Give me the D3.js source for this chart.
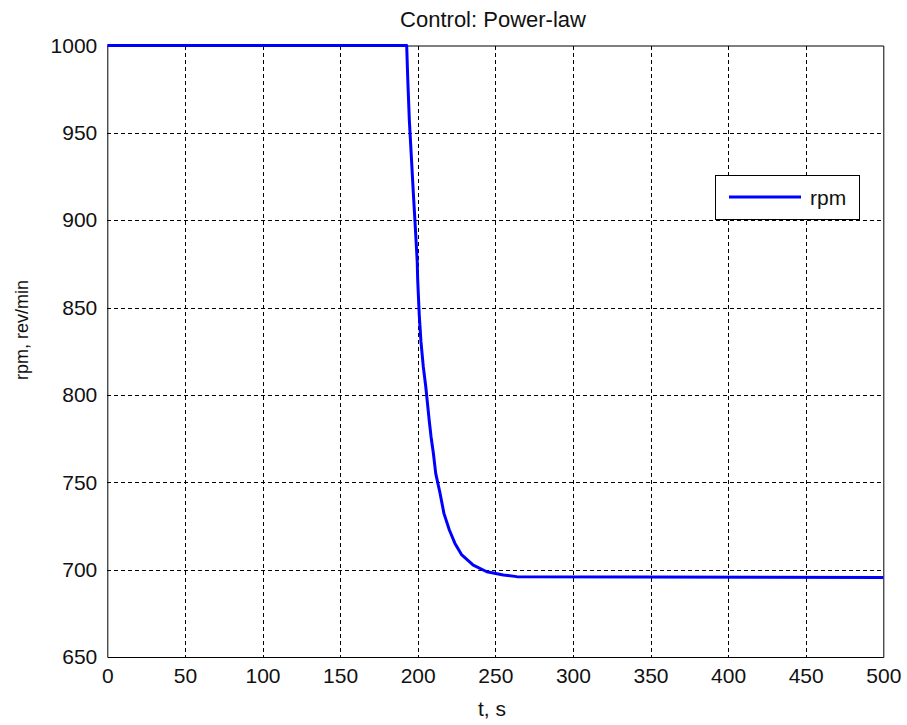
<!DOCTYPE html>
<html>
<head>
<meta charset="utf-8">
<script src="https://cdn.jsdelivr.net/npm/d3@7"></script>
<style>
  body { margin: 0; background: #fff; }
  svg text { font-family: "Liberation Sans", Arial, sans-serif; fill: #111; }
</style>
</head>
<body>
<svg id="chart" width="907" height="725"></svg>
<script>
/* ---- data ---- */
const timeS = [0, 192.9, 193.6, 194.6, 195.9, 197.2, 198.5, 199.7, 200.0, 201.0, 202.1, 203.6,
  205.2, 207.5, 208.6, 210.1, 211.6, 214.4, 216.9, 220.4, 224.0, 228.4, 235.8, 244.5, 255.2, 263.8, 500];
const rpmValues = [1000, 1000, 980.7, 957.4, 936.4, 915.4, 895.4, 876.2, 865.8, 845.8, 830.5, 816.2,
  804.7, 784.7, 776.1, 766.6, 755.1, 743.7, 732.2, 722.7, 715.0, 708.4, 702.6, 698.8, 696.9, 696.0, 695.5];
const xTicks = [0, 50, 100, 150, 200, 250, 300, 350, 400, 450, 500];
const yTicks = [650, 700, 750, 800, 850, 900, 950, 1000];

const series = timeS.map((t, i) => ({ t, v: rpmValues[i] }));

/* ---- layout ---- */
const plotLeft = 107.3, plotRight = 883.3, plotTop = 45.5, plotBottom = 657;
const svg = d3.select("#chart");

const x = d3.scaleLinear().domain([0, 500]).range([plotLeft, plotRight]);
const y = d3.scaleLinear().domain([650, 1000]).range([plotBottom, plotTop]);

// dashed grid
const grid = svg.append("g").attr("stroke", "#000").attr("stroke-width", 1)
  .attr("stroke-dasharray", "4,3").attr("shape-rendering", "crispEdges");
xTicks.slice(1, -1).forEach(t => {
  grid.append("line").attr("x1", Math.round(x(t)) + 0.5).attr("x2", Math.round(x(t)) + 0.5)
    .attr("y1", plotTop).attr("y2", plotBottom);
});
yTicks.slice(1, -1).forEach(v => {
  grid.append("line").attr("y1", Math.round(y(v)) + 0.5).attr("y2", Math.round(y(v)) + 0.5)
    .attr("x1", plotLeft).attr("x2", plotRight);
});

// axes (ticks hidden under the grid, as in the reference)
const axB = d3.axisBottom(x).tickValues(xTicks).tickSize(0).tickPadding(11).tickFormat(d3.format("d"));
const axT = d3.axisTop(x).tickValues(xTicks).tickSize(0).tickFormat("");
const axL = d3.axisLeft(y).tickValues(yTicks).tickSize(0).tickPadding(10).tickFormat(d3.format("d"));
const axR = d3.axisRight(y).tickValues(yTicks).tickSize(0).tickFormat("");

function styleAxis(g) {
  g.selectAll("path").attr("stroke", "#000").attr("stroke-width", 1);
  g.selectAll("text").attr("font-size", 21).attr("font-family", "Liberation Sans, Arial, sans-serif").attr("fill", "#111");
}
svg.append("g").attr("transform", `translate(0,${plotBottom})`).call(axB).call(styleAxis);
svg.append("g").attr("transform", `translate(0,${plotTop})`).call(axT).call(styleAxis);
svg.append("g").attr("transform", `translate(${plotLeft},0)`).call(axL).call(styleAxis);
svg.append("g").attr("transform", `translate(${plotRight},0)`).call(axR).call(styleAxis);

// rpm line
const line = d3.line().x(d => x(d.t)).y(d => y(d.v));
svg.append("path").datum(series).attr("d", line)
  .attr("fill", "none").attr("stroke", "#0000ff").attr("stroke-width", 3)
  .attr("stroke-linejoin", "round");

// labels
svg.append("text").attr("x", 493).attr("y", 27).attr("text-anchor", "middle")
  .attr("font-size", 22).text("Control: Power-law");
svg.append("text").attr("x", 492).attr("y", 716).attr("text-anchor", "middle")
  .attr("font-size", 21).text("t, s");
svg.append("text").attr("transform", "translate(28,330) rotate(-90)").attr("text-anchor", "middle")
  .attr("font-size", 18).text("rpm, rev/min");

// legend
const lg = svg.append("g");
lg.append("rect").attr("x", 715.5).attr("y", 175.5).attr("width", 144).attr("height", 44)
  .attr("fill", "#fff").attr("stroke", "#000").attr("stroke-width", 1);
lg.append("line").attr("x1", 729).attr("x2", 801).attr("y1", 197).attr("y2", 197)
  .attr("stroke", "#0000ff").attr("stroke-width", 3);
lg.append("text").attr("x", 810).attr("y", 205).attr("font-size", 21).text("rpm");
</script>
</body>
</html>
